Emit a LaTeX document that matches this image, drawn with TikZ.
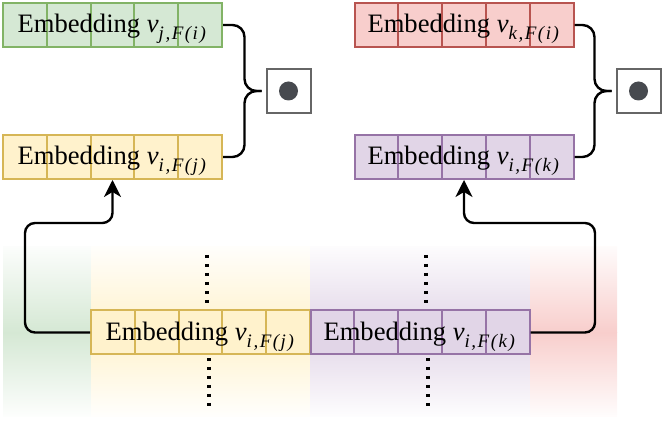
\documentclass[tikz,border=0pt]{standalone}
\usepackage{fontspec}
\setmainfont{Liberation Serif}
\usetikzlibrary{calc,arrows.meta}
\definecolor{grnfill}{HTML}{D5E8D4}\definecolor{grnline}{HTML}{82B366}
\definecolor{ylwfill}{HTML}{FFF2CC}\definecolor{ylwline}{HTML}{D6B656}
\definecolor{redfill}{HTML}{F8CECC}\definecolor{redline}{HTML}{B85450}
\definecolor{prpfill}{HTML}{E1D5E7}\definecolor{prpline}{HTML}{9673A6}
\definecolor{boxgray}{HTML}{666666}\definecolor{dotgray}{HTML}{474A4F}
\newcommand{\emb}[1]{\fontsize{13.3}{15}\selectfont Embedding \textit{v}\raisebox{-3.5pt}{\fontsize{9.5}{11}\selectfont\addfontfeatures{LetterSpace=8}\textit{#1}}}
\tikzset{
  embbox/.style={draw=#1line,fill=#1fill,line width=1pt,minimum width=109.5pt,minimum height=22pt,inner sep=0pt,
    text height=11pt,text depth=3pt,
    path picture={\foreach \k in {1,...,4}
      \draw[#1line,line width=1pt] ($(path picture bounding box.north west)!\k/5!(path picture bounding box.north east)$)
        -- ($(path picture bounding box.south west)!\k/5!(path picture bounding box.south east)$);}},
  dotbox/.style={draw=boxgray,line width=1pt,fill=white,minimum size=22pt,inner sep=0pt},
  dotmark/.style={circle,fill=dotgray,minimum size=9.5pt,inner sep=0pt},
  flowarr/.style={-{Stealth[length=8.5pt,width=8.5pt,inset=2.5pt]},line width=1.2pt,rounded corners=5pt},
  bracearm/.style={line width=1.2pt,rounded corners=6pt},
  vdots/.style={line width=1.6pt,dash pattern=on 1.4pt off 3.1pt}
}
\begin{document}
\begin{tikzpicture}[x=0.5pt,y=-0.5pt]
  \useasboundingbox (0,0) rectangle (664,426);
  \foreach \xa/\xb/\c in {3/91/grnfill,91/310/ylwfill,310/530/prpfill,530/617/redfill}{
    \shade[top color=\c!8,bottom color=\c] (\xa,247) rectangle (\xb,332.5);
    \shade[top color=\c,bottom color=\c!4] (\xa,332.5) rectangle (\xb,417);
  }
  \draw[vdots] (207,255) -- (207,303); \draw[vdots] (209,358) -- (209,406);
  \draw[vdots] (426,255) -- (426,303); \draw[vdots] (428,358) -- (428,406);

  \node[embbox=grn] (tg) at (112.5,25) {\emb{j,F(i)}};
  \node[embbox=ylw] (ty) at (112.5,157) {\emb{i,F(j)}};
  \node[embbox=red] (tr) at (464,25) {\emb{k,F(i)}};
  \node[embbox=prp] (tp) at (464,157) {\emb{i,F(k)}};
  \node[embbox=ylw] (by) at (200.5,332.5) {\emb{i,F(j)}};
  \node[embbox=prp] (bp) at (420,332.5) {\emb{i,F(k)}};

  \node[dotbox] (dl) at (288.5,91) {}; \node[dotmark] (dlm) at (dl) {};
  \node[dotbox] (dr) at (638.5,91) {}; \node[dotmark] (drm) at (dr) {};

  \coordinate (lmid) at ($(dl.west)+(-21,0)$); \coordinate (ltip) at ($(dl.west)+(-4,0)$);
  \coordinate (rmid) at ($(dr.west)+(-21,0)$); \coordinate (rtip) at ($(dr.west)+(-4,0)$);
  \draw[bracearm] (tg.east) -| (lmid) -- (ltip);
  \draw[bracearm] (ty.east) -| (lmid) -- (ltip);
  \draw[bracearm] (tr.east) -| (rmid) -- (rtip);
  \draw[bracearm] (tp.east) -| (rmid) -- (rtip);

  \coordinate (lturn) at (25,223); \coordinate (rturn) at (595,223);
  \draw[flowarr] (by.west) -| (lturn) -| (ty.south);
  \draw[flowarr] (bp.east) -| (rturn) -| (tp.south);
\end{tikzpicture}
\end{document}
